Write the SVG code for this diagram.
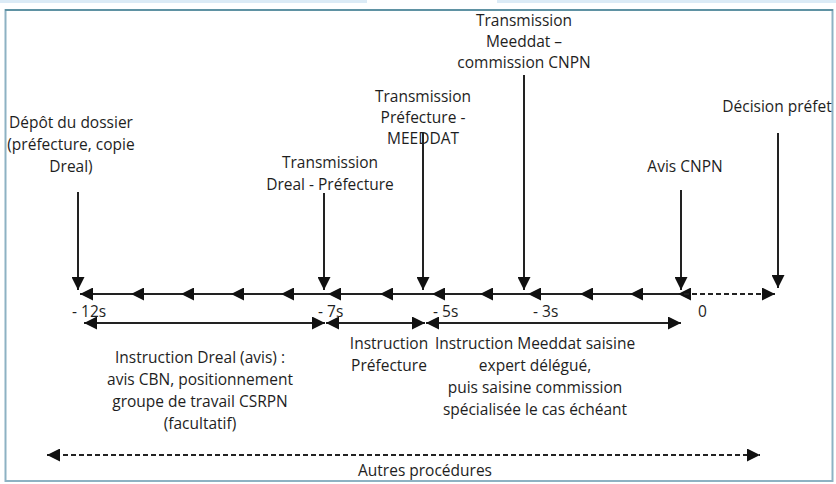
<svg xmlns="http://www.w3.org/2000/svg" width="836" height="484" viewBox="0 0 836 484">
<defs>
<style>
text{font-family:"Open Sans","Liberation Sans",sans-serif;font-size:15.5px;fill:#1e1e1e;text-anchor:middle}
.l{text-anchor:start}
.c{stroke:#222;stroke-width:2;fill:none}
.d{stroke-dasharray:5 3}
</style>
<marker id="ah" viewBox="0 0 12 12" refX="12" refY="6" markerWidth="13" markerHeight="13" markerUnits="userSpaceOnUse" orient="auto-start-reverse">
<path d="M0,0 L12,6 L0,12 z" fill="#111"/>
</marker>
</defs>
<rect x="0" y="0" width="367" height="3" fill="#dcebf6"/>
<rect x="497" y="0" width="339" height="3" fill="#dcebf6"/>
<rect x="5.5" y="10" width="827" height="471" fill="#fff" stroke="#8db2c3" stroke-width="2"/>
<line x1="5" y1="10" x2="833" y2="10" stroke="#5f92a3" stroke-width="2"/>
<g id="connectors">
<line class="c" x1="80" y1="294" x2="131" y2="294" marker-start="url(#ah)"/>
<line class="c" x1="131" y1="294" x2="181" y2="294" marker-start="url(#ah)"/>
<line class="c" x1="181" y1="294" x2="231" y2="294" marker-start="url(#ah)"/>
<line class="c" x1="231" y1="294" x2="281" y2="294" marker-start="url(#ah)"/>
<line class="c" x1="281" y1="294" x2="328" y2="294" marker-start="url(#ah)"/>
<line class="c" x1="328" y1="294" x2="380" y2="294" marker-start="url(#ah)"/>
<line class="c" x1="380" y1="294" x2="432" y2="294" marker-start="url(#ah)"/>
<line class="c" x1="432" y1="294" x2="480" y2="294" marker-start="url(#ah)"/>
<line class="c" x1="480" y1="294" x2="528" y2="294" marker-start="url(#ah)"/>
<line class="c" x1="528" y1="294" x2="580" y2="294" marker-start="url(#ah)"/>
<line class="c" x1="580" y1="294" x2="630" y2="294" marker-start="url(#ah)"/>
<line class="c" x1="630" y1="294" x2="678" y2="294" marker-start="url(#ah)"/>
<line class="c" x1="678" y1="294" x2="683" y2="294" marker-start="url(#ah)"/>
<line class="c d" x1="684" y1="294" x2="775" y2="294" marker-end="url(#ah)"/>
<line class="c" x1="78" y1="192" x2="78" y2="290" marker-end="url(#ah)"/>
<line class="c" x1="324" y1="193" x2="324" y2="290" marker-end="url(#ah)"/>
<line class="c" x1="423" y1="133" x2="423" y2="290" marker-end="url(#ah)"/>
<line class="c" x1="524" y1="75" x2="524" y2="290" marker-end="url(#ah)"/>
<line class="c" x1="681" y1="190" x2="681" y2="290" marker-end="url(#ah)"/>
<line class="c" x1="778" y1="133" x2="778" y2="288" marker-end="url(#ah)"/>
<line class="c" x1="84" y1="323" x2="325" y2="323" marker-start="url(#ah)" marker-end="url(#ah)"/>
<line class="c" x1="326" y1="323" x2="425" y2="323" marker-start="url(#ah)" marker-end="url(#ah)"/>
<line class="c" x1="426" y1="323" x2="681" y2="323" marker-start="url(#ah)" marker-end="url(#ah)"/>
<line class="c d" x1="47" y1="455" x2="760" y2="455" marker-start="url(#ah)" marker-end="url(#ah)"/>
</g>
<g id="depot"><text x="71" y="128">Dépôt du dossier</text><text x="71" y="150">(préfecture, copie</text><text x="71" y="172">Dreal)</text></g>
<g id="trans-dreal"><text x="330" y="168">Transmission</text><text x="330" y="190">Dreal - Préfecture</text></g>
<g id="trans-pref"><text x="423" y="102">Transmission</text><text x="423" y="123">Préfecture -</text><text x="423" y="144">MEEDDAT</text></g>
<g id="trans-meeddat"><text x="524" y="26">Transmission</text><text x="524" y="47">Meeddat –</text><text x="524" y="68">commission CNPN</text></g>
<g id="decision"><text x="777" y="112">Décision préfet</text></g>
<g id="avis"><text x="685" y="172">Avis CNPN</text></g>
<g id="ticks"><text class="l" x="72" y="317">- 12s</text><text class="l" x="318" y="317">- 7s</text><text class="l" x="433" y="317">- 5s</text><text class="l" x="533" y="317">- 3s</text><text class="l" x="698" y="317">0</text></g>
<g id="instr-dreal"><text x="200" y="363">Instruction Dreal (avis) :</text><text x="200" y="385">avis CBN, positionnement</text><text x="200" y="407">groupe de travail CSRPN</text><text x="200" y="429">(facultatif)</text></g>
<g id="instr-pref"><text x="389" y="349">Instruction</text><text x="389" y="371">Préfecture</text></g>
<g id="instr-meeddat"><text x="535" y="349">Instruction Meeddat saisine</text><text x="535" y="371">expert délégué,</text><text x="535" y="393">puis saisine commission</text><text x="535" y="415">spécialisée le cas échéant</text></g>
<g id="autres"><text x="425" y="476">Autres procédures</text></g>
</svg>
